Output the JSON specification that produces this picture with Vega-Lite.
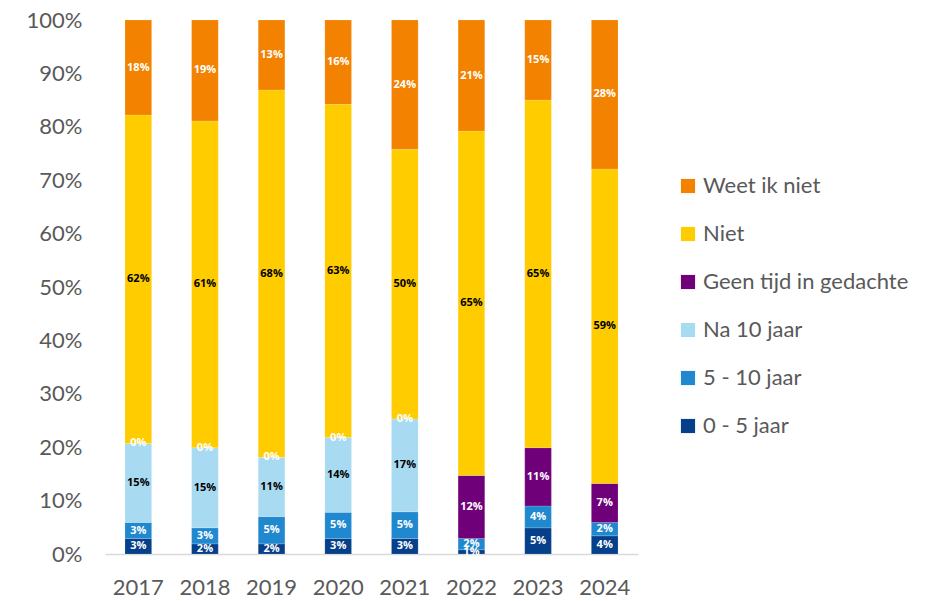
{
  "$schema": "https://vega.github.io/schema/vega-lite/v6.json",
  "autosize": "none",
  "width": 533,
  "height": 534,
  "padding": {"left": 105, "top": 20, "right": 311, "bottom": 47},
  "background": "white",
  "config": {
    "view": {"stroke": null},
    "font": "Lato"
  },
  "data": {
    "values": [
      {"year": "2017", "cat": "0 - 5 jaar", "order": 1, "value": 2.9, "label": "3%"},
      {"year": "2017", "cat": "5 - 10 jaar", "order": 2, "value": 3.0, "label": "3%"},
      {"year": "2017", "cat": "Na 10 jaar", "order": 3, "value": 14.8, "label": "15%"},
      {"year": "2017", "cat": "Geen tijd in gedachte", "order": 4, "value": 0, "label": "0%"},
      {"year": "2017", "cat": "Niet", "order": 5, "value": 61.5, "label": "62%"},
      {"year": "2017", "cat": "Weet ik niet", "order": 6, "value": 17.8, "label": "18%"},
      {"year": "2018", "cat": "0 - 5 jaar", "order": 1, "value": 1.9, "label": "2%"},
      {"year": "2018", "cat": "5 - 10 jaar", "order": 2, "value": 3.0, "label": "3%"},
      {"year": "2018", "cat": "Na 10 jaar", "order": 3, "value": 15.0, "label": "15%"},
      {"year": "2018", "cat": "Geen tijd in gedachte", "order": 4, "value": 0, "label": "0%"},
      {"year": "2018", "cat": "Niet", "order": 5, "value": 61.2, "label": "61%"},
      {"year": "2018", "cat": "Weet ik niet", "order": 6, "value": 18.9, "label": "19%"},
      {"year": "2019", "cat": "0 - 5 jaar", "order": 1, "value": 1.9, "label": "2%"},
      {"year": "2019", "cat": "5 - 10 jaar", "order": 2, "value": 5.1, "label": "5%"},
      {"year": "2019", "cat": "Na 10 jaar", "order": 3, "value": 11.1, "label": "11%"},
      {"year": "2019", "cat": "Geen tijd in gedachte", "order": 4, "value": 0, "label": "0%"},
      {"year": "2019", "cat": "Niet", "order": 5, "value": 68.8, "label": "68%"},
      {"year": "2019", "cat": "Weet ik niet", "order": 6, "value": 13.1, "label": "13%"},
      {"year": "2020", "cat": "0 - 5 jaar", "order": 1, "value": 2.9, "label": "3%"},
      {"year": "2020", "cat": "5 - 10 jaar", "order": 2, "value": 4.9, "label": "5%"},
      {"year": "2020", "cat": "Na 10 jaar", "order": 3, "value": 14.0, "label": "14%"},
      {"year": "2020", "cat": "Geen tijd in gedachte", "order": 4, "value": 0, "label": "0%"},
      {"year": "2020", "cat": "Niet", "order": 5, "value": 62.4, "label": "63%"},
      {"year": "2020", "cat": "Weet ik niet", "order": 6, "value": 15.8, "label": "16%"},
      {"year": "2021", "cat": "0 - 5 jaar", "order": 1, "value": 2.9, "label": "3%"},
      {"year": "2021", "cat": "5 - 10 jaar", "order": 2, "value": 5.0, "label": "5%"},
      {"year": "2021", "cat": "Na 10 jaar", "order": 3, "value": 17.4, "label": "17%"},
      {"year": "2021", "cat": "Geen tijd in gedachte", "order": 4, "value": 0, "label": "0%"},
      {"year": "2021", "cat": "Niet", "order": 5, "value": 50.5, "label": "50%"},
      {"year": "2021", "cat": "Weet ik niet", "order": 6, "value": 24.2, "label": "24%"},
      {"year": "2022", "cat": "0 - 5 jaar", "order": 1, "value": 0.8, "label": "1%"},
      {"year": "2022", "cat": "5 - 10 jaar", "order": 2, "value": 2.1, "label": "2%"},
      {"year": "2022", "cat": "Geen tijd in gedachte", "order": 4, "value": 11.8, "label": "12%"},
      {"year": "2022", "cat": "Niet", "order": 5, "value": 64.5, "label": "65%"},
      {"year": "2022", "cat": "Weet ik niet", "order": 6, "value": 20.8, "label": "21%"},
      {"year": "2023", "cat": "0 - 5 jaar", "order": 1, "value": 4.9, "label": "5%"},
      {"year": "2023", "cat": "5 - 10 jaar", "order": 2, "value": 4.1, "label": "4%"},
      {"year": "2023", "cat": "Geen tijd in gedachte", "order": 4, "value": 10.9, "label": "11%"},
      {"year": "2023", "cat": "Niet", "order": 5, "value": 65.1, "label": "65%"},
      {"year": "2023", "cat": "Weet ik niet", "order": 6, "value": 15.0, "label": "15%"},
      {"year": "2024", "cat": "0 - 5 jaar", "order": 1, "value": 3.4, "label": "4%"},
      {"year": "2024", "cat": "5 - 10 jaar", "order": 2, "value": 2.5, "label": "2%"},
      {"year": "2024", "cat": "Geen tijd in gedachte", "order": 4, "value": 7.3, "label": "7%"},
      {"year": "2024", "cat": "Niet", "order": 5, "value": 58.9, "label": "59%"},
      {"year": "2024", "cat": "Weet ik niet", "order": 6, "value": 27.9, "label": "28%"}
    ]
  },
  "transform": [
    {"stack": "value", "groupby": ["year"], "sort": [{"field": "order", "order": "ascending"}], "as": ["v0", "v1"]},
    {"calculate": "(datum.v0 + datum.v1) / 2", "as": "vmid"}
  ],
  "encoding": {
    "x": {
      "field": "year",
      "type": "nominal",
      "scale": {"paddingInner": 0.6, "paddingOuter": 0.3},
      "axis": {
        "title": null,
        "labelAngle": 0,
        "labelFontSize": 22,
        "labelColor": "#595959",
        "labelPadding": 23,
        "ticks": false,
        "domainColor": "#D9D9D9",
        "domainWidth": 1.5
      }
    }
  },
  "layer": [
    {
      "mark": {"type": "bar", "stroke": "white", "strokeWidth": 0.3, "strokeOpacity": 0.5},
      "encoding": {
        "y": {
          "field": "v0",
          "type": "quantitative",
          "scale": {"domain": [0, 100], "nice": false},
          "axis": {
            "title": null,
            "values": [0, 10, 20, 30, 40, 50, 60, 70, 80, 90, 100],
            "labelExpr": "datum.value + '%'",
            "labelFontSize": 22,
            "labelColor": "#595959",
            "labelPadding": 23,
            "ticks": false,
            "domain": false,
            "grid": false
          }
        },
        "y2": {"field": "v1"},
        "color": {
          "field": "cat",
          "type": "nominal",
          "scale": {
            "domain": ["Weet ik niet", "Niet", "Geen tijd in gedachte", "Na 10 jaar", "5 - 10 jaar", "0 - 5 jaar"],
            "range": ["#F38200", "#FFCC00", "#70007A", "#A8DAF1", "#2088CE", "#063F8A"]
          },
          "legend": {
            "title": null,
            "orient": "none",
            "legendX": 572,
            "legendY": 155,
            "symbolType": "square",
            "symbolSize": 200,
            "symbolStrokeWidth": 0,
            "labelFontSize": 22,
            "labelColor": "#595959",
            "labelOffset": 4,
            "rowPadding": 26,
            "labelLimit": 300
          }
        }
      }
    },
    {
      "mark": {"type": "text", "fontSize": 11, "fontWeight": "bold", "baseline": "middle", "align": "center", "font": "Open Sans"},
      "encoding": {
        "y": {"field": "vmid", "type": "quantitative"},
        "text": {"field": "label"},
        "color": {
          "condition": {"test": "datum.cat === 'Na 10 jaar' || datum.cat === 'Niet'", "value": "#000000"},
          "value": "#FFFFFF"
        }
      }
    }
  ]
}
